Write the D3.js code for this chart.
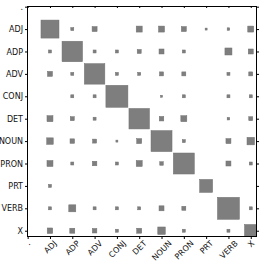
<!DOCTYPE html>
<html>
<head>
<meta charset="utf-8">
<script src="https://cdn.jsdelivr.net/npm/d3@7"></script>
<style>
body { margin: 0; background: #fff; }
text { font-family: "DejaVu Sans", sans-serif; }
</style>
</head>
<body>
<script>
// tags (rows = true tag, cols = predicted tag), "." is only a tick
var tags = ["ADJ", "ADP", "ADV", "CONJ", "DET", "NOUN", "PRON", "PRT", "VERB", "X"];
var tickLabels = [".", "ADJ", "ADP", "ADV", "CONJ", "DET", "NOUN", "PRON", "PRT", "VERB", "X"];

// weights (square area ~ weight)
var rowADJ  = [0.652, 0.018, 0.050, 0,     0.072, 0.072, 0.050, 0.008, 0.013, 0.072];
var rowADP  = [0.018, 0.845, 0.018, 0.018, 0.032, 0.050, 0.018, 0,     0.099, 0.050];
var rowADV  = [0.050, 0.018, 0.845, 0.018, 0.018, 0.032, 0.032, 0,     0.018, 0.032];
var rowCONJ = [0,     0.018, 0.018, 0.973, 0,     0.008, 0.018, 0,     0.018, 0.018];
var rowDET  = [0.072, 0.032, 0.018, 0,     0.845, 0.041, 0.072, 0,     0.013, 0.032];
var rowNOUN = [0.085, 0.041, 0.032, 0.008, 0.050, 0.887, 0.018, 0,     0.050, 0.113];
var rowPRON = [0.072, 0.018, 0.041, 0.018, 0.072, 0.025, 0.887, 0,     0.050, 0.018];
var rowPRT  = [0.018, 0,     0,     0,     0,     0,     0,     0.340, 0,     0];
var rowVERB = [0.018, 0.099, 0.018, 0.018, 0.018, 0.050, 0.032, 0,     0.973, 0.018];
var rowX    = [0.061, 0.050, 0.041, 0.018, 0.050, 0.113, 0.018, 0,     0.018, 0.314];

var rows = [rowADJ, rowADP, rowADV, rowCONJ, rowDET, rowNOUN, rowPRON, rowPRT, rowVERB, rowX];

var W = 261, H = 261;
var box = {left: 27, top: 6, right: 257, bottom: 237};

var svg = d3.select("body").append("svg")
    .attr("width", W)
    .attr("height", H);

// index -1 is the "." tick, ADJ = 0
var x = d3.scaleLinear().domain([-1.03, 9.28]).range([box.left, box.right]);
var y = d3.scaleLinear().domain([-1.03, 9.28]).range([box.top, box.bottom]);
var cell = x(1) - x(0);
var side = d3.scaleSqrt().domain([0, 1]).range([0, cell]);

svg.append("clipPath").attr("id", "clip")
  .append("rect")
    .attr("x", box.left).attr("y", box.top)
    .attr("width", box.right - box.left).attr("height", box.bottom - box.top);

// flatten rows into cells
var cells = [];
rows.forEach(function(r, i) {
  r.forEach(function(v, j) {
    if (v > 0) cells.push({row: i, col: j, v: v});
  });
});

svg.append("g")
    .attr("clip-path", "url(#clip)")
  .selectAll("rect")
  .data(cells)
  .enter()
  .append("rect")
    .attr("x", function(d) { return x(d.col) - side(d.v) / 2; })
    .attr("y", function(d) { return y(d.row) - side(d.v) / 2; })
    .attr("width", function(d) { return side(d.v); })
    .attr("height", function(d) { return side(d.v); })
    .attr("fill", "#7e7e7e")
    .attr("stroke", "#727272")
    .attr("stroke-width", 0.5);

var idx = d3.range(-1, 10);
var fmt = function(i) { return tickLabels[i + 1]; };

// axes
var gx = svg.append("g")
    .attr("transform", "translate(0," + box.bottom + ")")
    .call(d3.axisBottom(x).tickValues(idx).tickFormat(fmt).tickSize(2).tickSizeOuter(0));
svg.append("g")
    .attr("transform", "translate(0," + box.top + ")")
    .call(d3.axisTop(x).tickValues(idx).tickFormat("").tickSize(-2).tickSizeOuter(0));
var gy = svg.append("g")
    .attr("transform", "translate(" + box.left + ",0)")
    .call(d3.axisLeft(y).tickValues(idx).tickFormat(fmt).tickSize(2).tickPadding(2).tickSizeOuter(0));
svg.append("g")
    .attr("transform", "translate(" + box.right + ",0)")
    .call(d3.axisRight(y).tickValues(idx).tickFormat("").tickSize(2).tickSizeOuter(0));

svg.selectAll(".domain").remove();
svg.selectAll(".tick line").attr("stroke", "#000");
svg.selectAll(".tick text")
    .attr("fill", "#111")
    .style("font-size", "8px");

// rotated bottom labels, box centred under the tick
gx.selectAll(".tick text")
    .attr("y", null)
    .attr("dy", null)
    .attr("text-anchor", "middle")
    .attr("dominant-baseline", "central")
    .attr("transform", function() {
      var w = this.getComputedTextLength();
      var half = (w + 6) / (2 * Math.SQRT2);
      return "translate(0," + (3 + half) + ") rotate(-45)";
    });

// frame
svg.append("rect")
    .attr("x", box.left + 0.5).attr("y", box.top + 0.5)
    .attr("width", box.right - box.left - 1).attr("height", box.bottom - box.top - 1)
    .attr("fill", "none")
    .attr("stroke", "#000")
    .attr("stroke-width", 1);
</script>
</body>
</html>
